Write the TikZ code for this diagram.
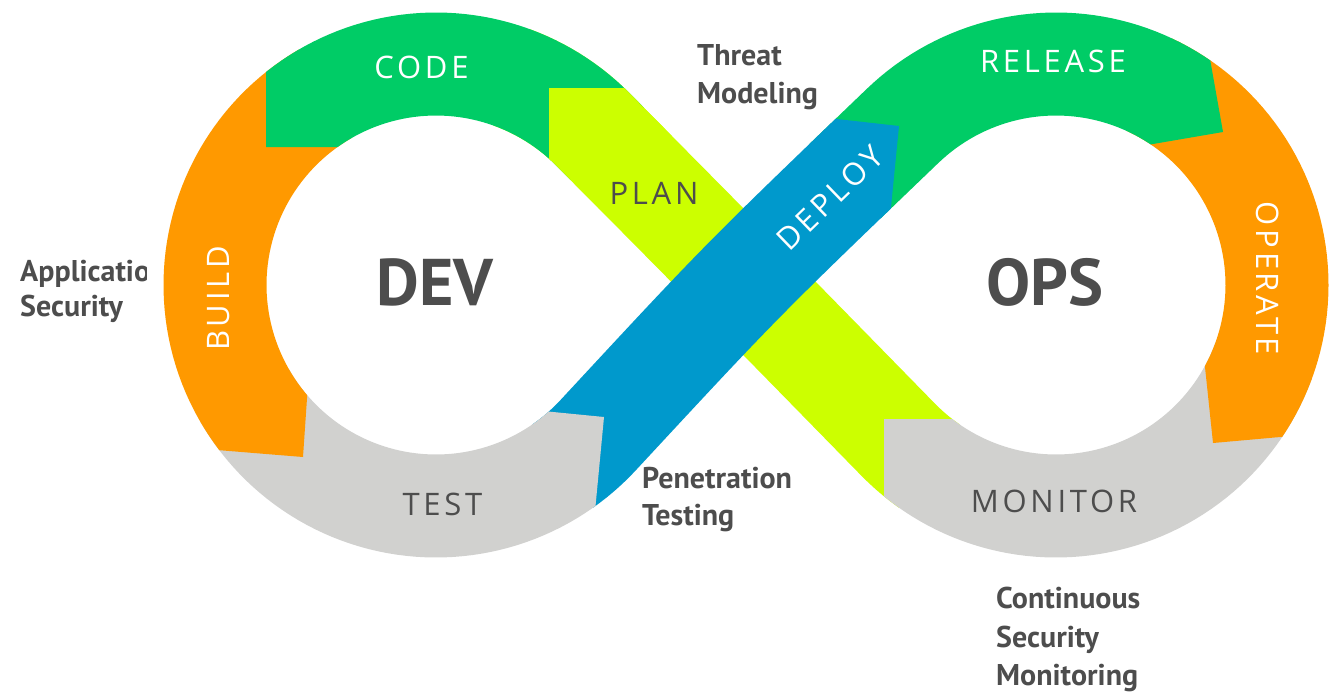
\documentclass[tikz,border=0pt]{standalone}
\usepackage{fontspec}
\setmainfont{Open Sans}
\newfontfamily\lblfont[LetterSpace=12]{Open Sans}
\newfontfamily\sidefont{PT Sans}
\definecolor{cgreen}{RGB}{0,204,102}
\definecolor{corange}{RGB}{255,153,0}
\definecolor{clime}{RGB}{204,255,0}
\definecolor{cblue}{RGB}{0,153,204}
\definecolor{cgrey}{RGB}{209,209,207}
\definecolor{ctext}{RGB}{77,77,77}
\tikzset{
  band/.style={line width=103pt, line join=round, line cap=butt},
  lbl/.style={font=\lblfont\fontsize{31}{31}\selectfont, inner sep=0pt},
  big/.style={font=\sidefont\bfseries\fontsize{66}{66}\selectfont, text=ctext, inner sep=0pt},
  side/.style={font=\sidefont\bfseries\fontsize{30}{30}\selectfont, text=ctext, inner sep=0pt, anchor=base west},
}
\begin{document}
\begin{tikzpicture}[x=1pt,y=-1pt]
\useasboundingbox (0,0) rectangle (1340,691);
% PLAN (lower, full diagonal)
\draw[band,clime] plot[domain=125:135.6,samples=6] ({1056+221*cos(\x)},{285+221*sin(\x)})
  .. controls (742,280) .. (593.1,129.6)
  -- plot[domain=-44.7:-70,samples=14] ({436+221*cos(\x)},{285+221*sin(\x)});
% MONITOR
\begin{scope}
\clip (884,419) -- (1000,419) -- (1000,250) -- (1400,250) -- (1400,700) -- (884,700) -- cycle;
\draw[band,cgrey] plot[domain=20:135.6,samples=60] ({1056+221*cos(\x)},{285+221*sin(\x)}) -- (859.5,400.2);
\end{scope}
% OPERATE
\begin{scope}
\clip (1213,443) -- (1195.8,280) -- (1100,280) -- (1100,-100) -- (1400,-100) -- (1400,426.3) -- cycle;
\draw[band,corange] plot[domain=-65:55,samples=60] ({1056+221*cos(\x)},{285+221*sin(\x)});
\end{scope}
% RELEASE
\begin{scope}
\clip (1223,132) -- (1100,153.1) -- (1100,450) -- (650,450) -- (650,-100) -- (1181.7,-100) -- cycle;
\draw[band,cgreen] (845.3,180.9) -- (903,125.5) -- plot[domain=-133.8:-30,samples=55] ({1056+221*cos(\x)},{285+221*sin(\x)});
\end{scope}
% DEPLOY
\begin{scope}
\clip (899,126) -- (300,58.5) -- (300,700) -- (860,700) -- (881.8,300) -- cycle;
\draw[band,cblue] plot[domain=55:42.8,samples=7] ({436+221*cos(\x)},{285+221*sin(\x)})
  .. controls (742,280) .. (903,125.5)
  -- plot[domain=-133.8:-120,samples=8] ({1056+221*cos(\x)},{285+221*sin(\x)});
\end{scope}
% TEST
\begin{scope}
\clip (604,417) -- (543,411) -- (480,350) -- (-100,350) -- (-100,700) -- (577,700) -- cycle;
\draw[band,cgrey] plot[domain=150:42.8,samples=55] ({436+221*cos(\x)},{285+221*sin(\x)}) -- (628.7,402.3);
\end{scope}
% BUILD
\begin{scope}
\clip (303,457) -- (310.3,350) -- (500,350) -- (500,-100) -- (-100,-100) -- (-100,424.2) -- cycle;
\draw[band,corange] plot[domain=-120:-240,samples=60] ({436+221*cos(\x)},{285+221*sin(\x)});
\end{scope}
% CODE
\begin{scope}
\clip (266,147) -- (400,147) -- (400,300) -- (720,300) -- (720,-100) -- (266,-100) -- cycle;
\draw[band,cgreen] (607.2,143.8) -- (593.1,129.6) -- plot[domain=-44.7:-150,samples=55] ({436+221*cos(\x)},{285+221*sin(\x)});
\end{scope}
% PLAN (upper head)
\begin{scope}
\clip (549,88) -- (549,400) -- (720,400) -- (720,88) -- cycle;
\draw[band,clime] (635.3,172.2) -- (593.1,129.6) -- plot[domain=-44.7:-70,samples=14] ({436+221*cos(\x)},{285+221*sin(\x)});
\end{scope}
% stage labels
\node[lbl,text=white] (code) at (421.5,67) {CODE};
\node[lbl,text=white] (release) at (1053,61.5) {RELEASE};
\node[lbl,text=ctext] (plan) at (654,193.5) {PLAN};
\node[lbl,text=white,rotate=44] (deploy) at (830,198) {DEPLOY};
\node[lbl,text=white,rotate=90] (build) at (218.5,298.5) {BUILD};
\node[lbl,text=white,rotate=-90] (operate) at (1267.5,278.5) {OPERATE};
\node[lbl,text=ctext] (test) at (442.5,504) {TEST};
\node[lbl,text=ctext] (monitor) at (1054,501.5) {MONITOR};
% centre words
\node[big] (dev) at (435,282) {DEV};
\node[big] (ops) at (1045,282) {OPS};
% security texts
\node[side] (tm1) at (697,65) {Threat};
\node[side] (tm2) at (697,103) {Modeling};
\node[side] (pt1) at (642,488) {Penetration};
\node[side] (pt2) at (642,525) {Testing};
\begin{scope}
\clip (0,0) rectangle (146,691);
\node[side] (as1) at (20,281) {Applicatio};
\end{scope}
\node[side] (as2) at (20,316) {Security};
\node[side] (cs1) at (996,608) {Continuous};
\node[side] (cs2) at (996,647) {Security};
\node[side] (cs3) at (996,685) {Monitoring};
\end{tikzpicture}
\end{document}
